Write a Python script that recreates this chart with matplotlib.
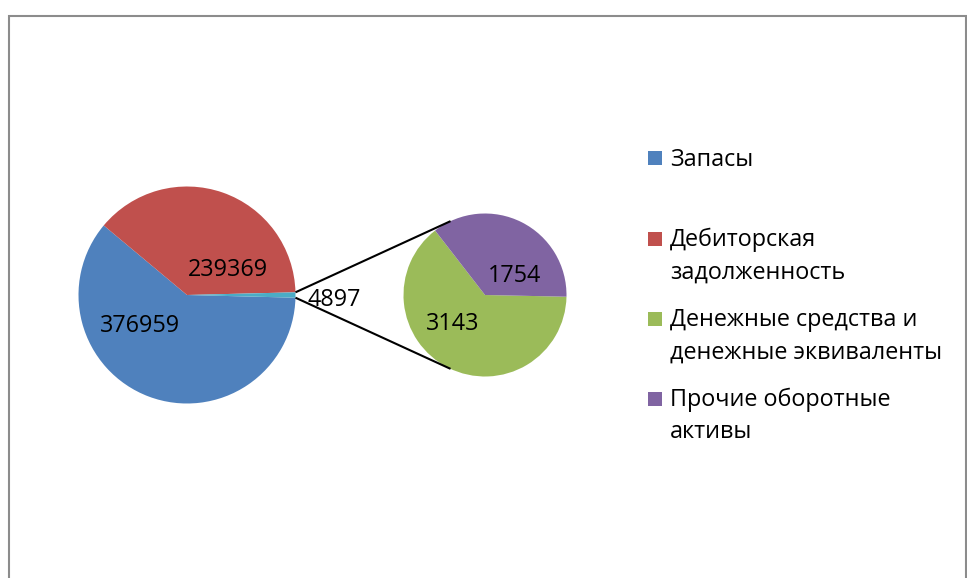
import matplotlib
matplotlib.use("Agg")
import matplotlib.pyplot as plt
from matplotlib.patches import Rectangle
import numpy as np

plt.rcParams['font.family'] = ['Open Sans', 'DejaVu Sans']

# data
main_labels = ["Запасы", "Дебиторская задолженность", "Прочие"]
main_values = [376959, 239369, 4897]
sub_labels = ["Денежные средства и денежные эквиваленты", "Прочие оборотные активы"]
sub_values = [3143, 1754]
legend_labels = ["Запасы", "Дебиторская\nзадолженность",
                 "Денежные средства и\nденежные эквиваленты", "Прочие оборотные\nактивы"]

main_colors = ["#4F81BD", "#C0504D", "#4BACC6"]
sub_colors = ["#9BBB59", "#8064A2"]
legend_colors = ["#4F81BD", "#C0504D", "#9BBB59", "#8064A2"]

W, H = 967, 578


def py(y):
    # pixel row -> data y
    return H - y


fig = plt.figure(figsize=(W / 100, H / 100), dpi=100)
ax = fig.add_axes([0, 0, 1, 1])

main_c = (187, py(295))
main_r = 108.5
sub_c = (485, py(295))
sub_r = 81.5

other_angle = 360 * main_values[2] / sum(main_values)
ax.pie(main_values, colors=main_colors, center=main_c, radius=main_r,
       startangle=-other_angle / 2, counterclock=False,
       wedgeprops=dict(linewidth=0))
ax.pie(sub_values, colors=sub_colors, center=sub_c, radius=sub_r,
       startangle=-1.2, counterclock=False,
       wedgeprops=dict(linewidth=0))

# connector lines between the small slice and the second pie
for sgn in (1, -1):
    a0 = np.deg2rad(sgn * other_angle / 2)
    a1 = np.deg2rad(sgn * 115)
    x0 = main_c[0] + main_r * np.cos(a0)
    y0 = main_c[1] + main_r * np.sin(a0)
    x1 = sub_c[0] + sub_r * np.cos(a1)
    y1 = sub_c[1] + sub_r * np.sin(a1)
    ax.plot([x0, x1], [y0, y1], color="black", lw=1.5, solid_capstyle="butt")

# value labels (x center, baseline in pixels)
label_pos = [(140, 332.5), (228, 276.5), (334, 306)]
for v, (x, y) in zip(main_values, label_pos):
    ax.text(x, py(y), str(v), ha="center", va="baseline", fontsize=16.8)
sub_pos = [(453, 330), (515, 282.5)]
for v, (x, y) in zip(sub_values, sub_pos):
    ax.text(x, py(y), str(v), ha="center", va="baseline", fontsize=16.8)

# legend drawn by hand so the marker sits on the first line
base = [165.5, 246.5, 326.5, 406.5]
for lab, col, b in zip(legend_labels, legend_colors, base):
    ax.add_patch(Rectangle((648, py(b - 1)), 14, 14, facecolor=col, edgecolor="none"))
    for i, line in enumerate(lab.split("\n")):
        ax.text(670, py(b + i * 32), line, ha="left", va="baseline", fontsize=16.8)

# chart border
ax.add_patch(Rectangle((9, -10), 957, py(16) + 10, facecolor="none",
                       edgecolor="#8c8c8c", lw=1.5))

ax.set_xlim(0, W)
ax.set_ylim(0, H)
ax.set_aspect("auto")
ax.axis("off")

fig.savefig("out.png", dpi=100)
